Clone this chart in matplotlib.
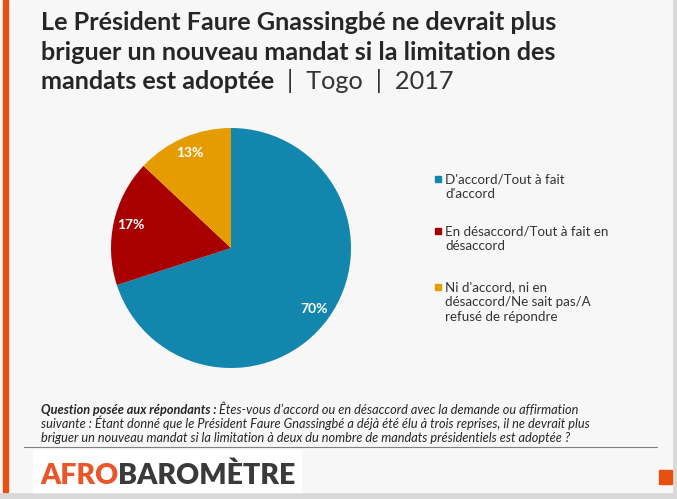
import matplotlib.pyplot as plt
from matplotlib.patches import Rectangle

# data
labels = [
    "D'accord/Tout à fait\nd'accord",
    "En désaccord/Tout à fait en\ndésaccord",
    "Ni d'accord, ni en\ndésaccord/Ne sait pas/A\nrefusé de répondre",
]
values = [70, 17, 13]
colors = ["#1286ad", "#a80000", "#e59c00"]

title_bold = [
    "Le Président Faure Gnassingbé ne devrait plus",
    "briguer un nouveau mandat si la limitation des",
    "mandats est adoptée",
]
title_tail = "  |  Togo  |  2017"
question_head = "Question posée aux répondants :"
question_lines = [
    " Êtes-vous d’accord ou en désaccord avec la demande ou affirmation",
    "suivante : Étant donné que le Président Faure Gnassingbé a déjà été élu à trois reprises, il ne devrait plus",
    "briguer un nouveau mandat si la limitation à deux du nombre de mandats présidentiels est adoptée ?",
]

W, H = 677, 499
fig = plt.figure(figsize=(W / 100, H / 100), dpi=100)
fig.patch.set_facecolor("#d9d9d9")
FONT = "Lato"

# slide background and decorations (pixel coords, origin top-left)
bg = fig.add_axes([0, 0, 1, 1])
bg.set_xlim(0, W)
bg.set_ylim(H, 0)
bg.axis("off")
bg.add_patch(Rectangle((0, 0), 672, 492, color="#f7f7f7", zorder=0))
bg.add_patch(Rectangle((3, 0), 5, 492, color="#e8500f", zorder=1))
bg.add_patch(Rectangle((659, 470), 13, 14, color="#e8500f", zorder=1))
bg.plot([24, 657], [447, 447], color="#808080", lw=0.8, zorder=1)
bg.add_patch(Rectangle((33, 450), 268, 42, color="white", zorder=1))

# title
for i, line in enumerate(title_bold):
    t = bg.text(41, 30 + i * 29.5, line, fontsize=18.2, fontweight="bold",
                color="#262626", family=FONT, va="baseline")
bg.annotate(title_tail, xy=(1, 0), xycoords=t, fontsize=18.2, color="#333333",
            family=FONT, fontweight="normal", va="bottom")

# pie
cx, cy, r = 231, 248, 120
ax = fig.add_axes([(cx - r) / W, (H - cy - r) / H, 2 * r / W, 2 * r / H])
ax.pie(values, colors=colors, startangle=90, counterclock=False,
       autopct="%d%%", pctdistance=0.86,
       textprops=dict(color="white", fontsize=10, fontweight="bold", family=FONT))
ax.set_xlim(-1, 1)
ax.set_ylim(-1, 1)
ax.set_aspect("auto")

# legend
leg_y = [180, 232, 288]
for yy, lab, c in zip(leg_y, labels, colors):
    bg.add_patch(Rectangle((435, yy - 4), 6, 6, color=c, zorder=2))
    bg.text(445, yy - 7, lab, fontsize=9.6, color="#333333", family=FONT,
            va="top", ha="left", linespacing=1.3)

# question text
QS = 9.2
q = bg.text(41, 414, question_head, fontsize=QS, fontweight="bold",
            style="italic", color="#262626", family=FONT, va="baseline")
bg.annotate(question_lines[0], xy=(1, 0), xycoords=q, fontsize=QS,
            style="italic", color="#262626", family=FONT, va="bottom")
for i, line in enumerate(question_lines[1:]):
    bg.text(41, 428 + i * 14, line, fontsize=QS, style="italic",
            color="#262626", family=FONT, va="baseline")

# logo
lg = bg.text(40, 484, "AFRO", fontsize=20.5, fontweight="heavy",
             color="#e8562a", family=FONT, va="baseline")
bg.annotate("BAROMÈTRE", xy=(1, 0), xycoords=lg, fontsize=20.5,
            fontweight="heavy", color="#3a3a3a", family=FONT, va="bottom")

fig.savefig("out.png", dpi=100, facecolor=fig.get_facecolor())
